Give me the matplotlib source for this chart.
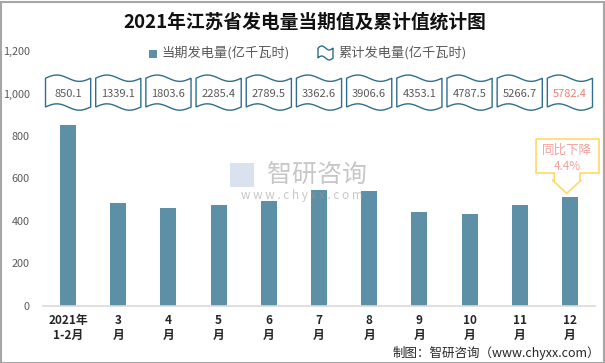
import numpy as np
import matplotlib
matplotlib.use("Agg")
import matplotlib.pyplot as plt
from matplotlib.path import Path
from matplotlib.patches import PathPatch, Rectangle

plt.rcParams['font.family'] = ['Noto Sans CJK SC', 'DejaVu Sans']

# ---- data ----
categories = ["2021年\n1-2月", "3\n月", "4\n月", "5\n月", "6\n月", "7\n月",
              "8\n月", "9\n月", "10\n月", "11\n月", "12\n月"]
monthly = [850.1, 485, 461, 475, 494, 547, 541, 442, 433, 475, 513]
cumulative = [850.1, 1339.1, 1803.6, 2285.4, 2789.5, 3362.6, 3906.6,
              4353.1, 4787.5, 5266.7, 5782.4]
yticks = [0, 200, 400, 600, 800, 1000, 1200]
title = "2021年江苏省发电量当期值及累计值统计图"
legend_labels = ["当期发电量(亿千瓦时)", "累计发电量(亿千瓦时)"]
source = "制图：智研咨询（www.chyxx.com）"

BAR = '#5D90A7'
WAVE = '#2F6E8C'
GRAY = '#595959'

W, H = 605, 363
fig = plt.figure(figsize=(W / 100, H / 100), dpi=100)
ax = fig.add_axes([43 / W, 1 - 305.5 / H, (595 - 43) / W, (305.5 - 51.3) / H])

x = np.arange(len(categories))
ax.bar(x, monthly, width=0.32, color=BAR, zorder=2)
ax.set_xlim(-0.5, len(categories) - 0.5)
ax.set_ylim(0, 1200)
ax.set_yticks(yticks)
ax.set_yticklabels([f"{v:,}" for v in yticks], color=GRAY, fontsize=7.8)
ax.set_xticks(x)
ax.set_xticklabels(categories, fontsize=8.5, fontweight='bold', color='#262626',
                   linespacing=1.25)
ax.tick_params(axis='both', length=0)
ax.tick_params(axis='y', pad=9.4)
ax.tick_params(axis='x', pad=6)
for s in ['left', 'right', 'top']:
    ax.spines[s].set_visible(False)
ax.spines['bottom'].set_color('#D9D9D9')
ax.spines['bottom'].set_linewidth(1.2)


def wave_path(x0, x1, yb, yt, a, n=40):
    t = np.linspace(0, 1, n)
    xs = x0 + (x1 - x0) * t
    top = yt + a * np.sin(2 * np.pi * t)
    bot = yb + a * np.sin(2 * np.pi * t)
    verts = list(zip(xs, top)) + list(zip(xs[::-1], bot[::-1])) + [(xs[0], top[0])]
    codes = [Path.MOVETO] + [Path.LINETO] * (len(verts) - 2) + [Path.CLOSEPOLY]
    return Path(verts, codes)


yc = 1005
for i, v in enumerate(cumulative):
    p = wave_path(i - 0.45, i + 0.45, yc - 68, yc + 68, 15)
    ax.add_patch(PathPatch(p, facecolor='white', edgecolor=WAVE, lw=1.0, zorder=3))
    col = '#F07F73' if i == len(cumulative) - 1 else GRAY
    ax.text(i, yc - 5, f"{v}", ha='center', va='center', fontsize=8,
            color=col, zorder=4)

# callout
cx = [9.325, 10.58, 10.58, 10.201, 10.201, 10.227, 9.936, 9.649, 9.689, 9.689, 9.325, 9.325]
cy = [786, 786, 625.5, 625.5, 592, 592, 529.7, 592, 592, 625.5, 625.5, 786]
ax.add_patch(PathPatch(Path(list(zip(cx, cy))), facecolor='white', edgecolor='#FFD966',
                       lw=1.2, zorder=5, clip_on=False))
ax.text(9.95, 734, "同比下降", ha='center', va='center', fontsize=9, color='#F4A09C',
        zorder=6, clip_on=False)
ax.text(9.95, 656, "4.4%", ha='center', va='center', fontsize=8.5, color='#F4A09C',
        zorder=6, clip_on=False)

# watermark
fig.text(317 / W, 1 - 175 / H, "智研咨询", ha='center', va='center', fontsize=18,
         color='#9A9A9A', alpha=0.55, zorder=10)
fig.text(302 / W, 1 - 196 / H, "w w w . c h y x x . c o m", ha='center', va='center',
         fontsize=8.5, color='#9A9A9A', alpha=0.55, zorder=10)
fig.patches.append(Rectangle((230 / W, 1 - 187 / H), 24 / W, 24 / H,
                             transform=fig.transFigure, facecolor='#C9D6E8',
                             alpha=0.7, edgecolor='none', zorder=9))

# title
fig.text(305 / W, 1 - 22 / H, title, ha='center', va='center', fontsize=13.5,
         fontweight='bold', color='#111111')

# legend
fig.patches.append(Rectangle((149 / W, 1 - 58 / H), 8 / W, 8 / H,
                             transform=fig.transFigure, facecolor=BAR, edgecolor='none'))
fig.text(161 / W, 1 - 53 / H, legend_labels[0], ha='left', va='center', fontsize=9.5,
         color=GRAY)
t = np.linspace(0, 1, 20)
lx = (318 + 15 * t) / W
ltop = 1 - (48 - 2 * np.sin(2 * np.pi * t)) / H
lbot = 1 - (58 - 2 * np.sin(2 * np.pi * t)) / H
lv = list(zip(lx, ltop)) + list(zip(lx[::-1], lbot[::-1])) + [(lx[0], ltop[0])]
fig.patches.append(PathPatch(Path(lv), transform=fig.transFigure, facecolor='white',
                             edgecolor=WAVE, lw=1.0))
fig.text(338 / W, 1 - 53 / H, legend_labels[1], ha='left', va='center', fontsize=9.5,
         color=GRAY)

# source
fig.text(600 / W, 1 - 353 / H, source, ha='right', va='center', fontsize=9,
         color='#262626')

# border
fig.patches.append(Rectangle((0.5 / W, 0.5 / H), (W - 2) / W, (H - 2) / H,
                             transform=fig.transFigure, facecolor='none',
                             edgecolor='#A6A6A6', lw=1.5))

fig.savefig("out.png", dpi=100)
